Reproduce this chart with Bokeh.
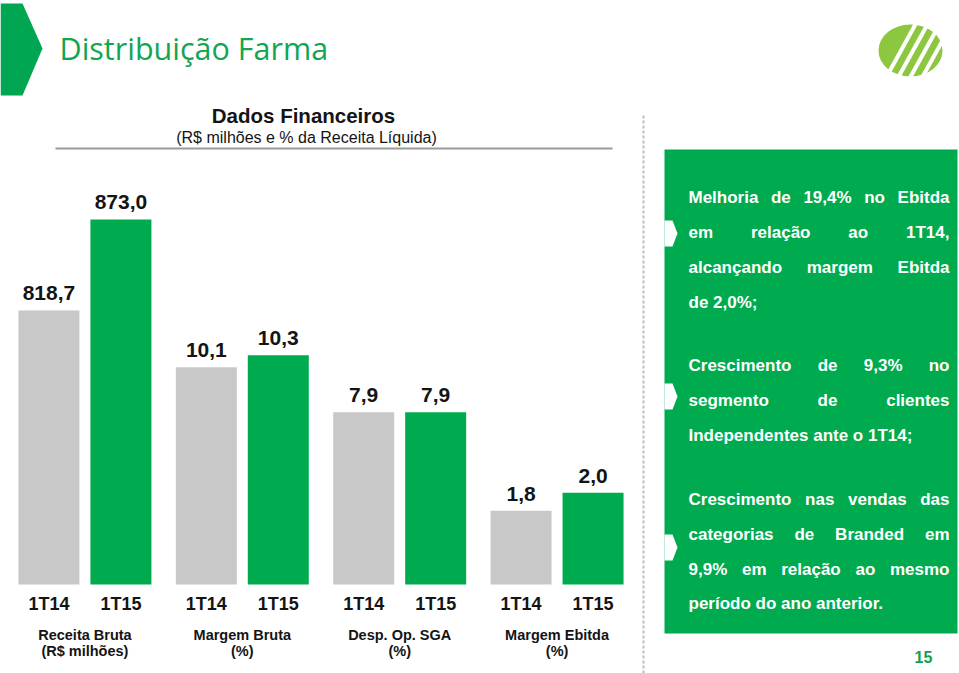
from bokeh.plotting import figure
from bokeh.models import Range1d, FactorRange, ColumnDataSource
from bokeh.layouts import column, row
from bokeh.embed import file_html
from bokeh.resources import INLINE
from bokeh.core.properties import value

# ---------------- data ----------------
groups = ["Receita Bruta", "Margem Bruta", "Desp. Op. SGA", "Margem Ebitda"]
group_units = ["(R$ milhões)", "(%)", "(%)", "(%)"]
periods = ["1T14", "1T15"]
values_1t14 = [818.7, 10.1, 7.9, 1.8]
values_1t15 = [873.0, 10.3, 7.9, 2.0]

# each group is drawn on its own (broken) scale, as in the original slide
axis_base = [655.2, 6.48, 5.03, 0.98]     # value sitting on the baseline
axis_px_per_unit = [1.676, 60.0, 60.0, 90.0]

page_title = "Distribuição Farma"
chart_title = "Dados Financeiros"
chart_subtitle = "(R$ milhões e % da Receita Líquida)"
page_number = "15"
paragraphs = [
    ["Melhoria de 19,4% no Ebitda", "em relação ao 1T14,", "alcançando margem Ebitda", "de 2,0%;"],
    ["Crescimento de 9,3% no", "segmento de clientes", "Independentes ante o 1T14;"],
    ["Crescimento nas vendas das", "categorias de Branded  em", "9,9% em relação ao mesmo", "período do ano anterior."],
]

GREEN = "#00AB4F"
GRAY = "#C8C8C8"
DARK = "#141414"
FONT = value("Liberation Sans")

W_TOTAL, H_TOTAL = 959, 673
HEADER_H = 100
SPLIT_X = 641
CHART_TOP = 155


def fmt(v):
    return f"{v:.1f}".replace(".", ",")


def clean(p):
    p.grid.visible = False
    p.outline_line_color = None
    p.background_fill_color = "white"
    p.border_fill_color = "white"
    return p


def mkfig(w, h, xr, yr):
    return clean(figure(width=w, height=h, x_range=xr, y_range=yr, output_backend="svg",
                        toolbar_location=None, min_border=0, x_axis_location=None,
                        y_axis_location=None))


# ---------------- header ----------------
header = mkfig(W_TOTAL, HEADER_H, Range1d(0, W_TOTAL), Range1d(HEADER_H, 0))
header.patch([0, 22, 42, 22, 0], [3, 3, 48, 95, 95], fill_color="#00A651", line_color=None)
header.text(x=[59], y=[47], text=[page_title], text_font=value("Open Sans"), text_font_size="30.5px",
            text_color="#13A552", text_baseline="alphabetic", text_align="left")
# logo
header.ellipse(x=[910], y=[50], width=64, height=52, fill_color="#8DC63F", line_color=None)
header.segment(x0=[884, 896, 908, 920], y0=[80, 80, 80, 80], x1=[916, 928, 940, 952], y1=[22, 22, 22, 22],
               line_color="white", line_width=4)

# ---------------- chart title strip ----------------
ctop = mkfig(SPLIT_X, CHART_TOP - HEADER_H, Range1d(0, SPLIT_X), Range1d(CHART_TOP, HEADER_H))
ctop.text(x=[303], y=[115], text=[chart_title], text_align="center",
          text_baseline="alphabetic", text_font=FONT, text_font_style="bold",
          text_font_size="20.5px", text_color=DARK)
ctop.text(x=[306], y=[137], text=[chart_subtitle], text_align="center",
          text_baseline="alphabetic", text_font=FONT, text_font_size="16px", text_color=DARK)
ctop.segment(x0=[55], y0=[148], x1=[612], y1=[148], line_color="#9A9A9A", line_width=2)

# ---------------- chart ----------------
factors = [(g, p) for g in groups for p in periods]
xr = FactorRange(*factors, factor_padding=0.18, group_padding=0.4,
                 range_padding=0.294, range_padding_units="absolute")
base_px = 584
chart = mkfig(SPLIT_X, H_TOTAL - CHART_TOP, xr, Range1d(H_TOTAL, CHART_TOP))
chart.extra_y_ranges = {
    f"g{i}": Range1d(axis_base[i] - (H_TOTAL - base_px) / axis_px_per_unit[i],
                     axis_base[i] + (base_px - CHART_TOP) / axis_px_per_unit[i])
    for i in range(len(groups))
}

for i, g in enumerate(groups):
    vals = [values_1t14[i], values_1t15[i]]
    src = ColumnDataSource(dict(x=[(g, p) for p in periods], top=vals,
                                color=[GRAY, GREEN], label=[fmt(v) for v in vals]))
    chart.vbar(x="x", top="top", bottom=axis_base[i], width=1.0, fill_color="color",
               line_color=None, y_range_name=f"g{i}", source=src)
    chart.text(x="x", y="top", text="label", y_range_name=f"g{i}", source=src,
               text_align="center", text_baseline="alphabetic", y_offset=-17,
               text_font=FONT, text_font_style="bold", text_font_size="21px", text_color=DARK)

chart.text(x=factors, y=[603] * len(factors), text=[f[1] for f in factors], text_align="center",
           text_baseline="alphabetic", text_font=FONT, text_font_style="bold",
           text_font_size="18px", text_color=DARK)
chart.text(x=groups, y=[634] * 4, text=groups, text_align="center", text_baseline="alphabetic",
           text_font=FONT, text_font_style="bold", text_font_size="14.5px", text_color=DARK)
chart.text(x=groups, y=[650] * 4, text=group_units, text_align="center", text_baseline="alphabetic",
           text_font=FONT, text_font_style="bold", text_font_size="14.5px", text_color=DARK)

# ---------------- side box ----------------
side = mkfig(W_TOTAL - SPLIT_X, H_TOTAL - HEADER_H, Range1d(SPLIT_X, W_TOTAL), Range1d(H_TOTAL, HEADER_H))
side.segment(x0=[643], y0=[115], x1=[643], y1=[673], line_color="#BDBDBD", line_width=2,
             line_dash="3 2")
side.quad(left=[664], right=[957], top=[149], bottom=[633], fill_color=GREEN, line_color=None)
for c in [233, 396, 547]:
    side.patch([664, 672, 677, 672, 664], [c - 13, c - 13, c, c + 13, c + 13],
               fill_color="white", line_color=None)

CW = {' ': 278, ',': 278, '.': 278, ';': 333, '%': 889, '(': 333, ')': 333}
for ch in "0123456789":
    CW[ch] = 556
CW.update(dict(A=722, B=722, C=722, D=722, E=667, F=611, G=778, H=722, I=278, M=833, T=611))
CW.update(dict(a=556, b=611, c=556, d=611, e=556, f=333, g=611, h=611, i=278, j=278, k=556,
               l=278, m=889, n=611, o=611, p=611, q=611, r=389, s=556, t=333, u=611, v=556,
               w=778, x=556, y=556, z=500))
CW.update({'ç': 556, 'ã': 556, 'í': 278, 'õ': 611, 'é': 556})
FS = 17


def tw(s):
    return sum(CW.get(ch, 556) for ch in s) / 1000 * FS


left_x, right_x = 688, 949
line_centers = [[197, 232, 267, 302], [365, 400, 435], [499, 534, 569, 603]]
wx, wy, wt = [], [], []
for para, ys in zip(paragraphs, line_centers):
    for k, (line, yb) in enumerate(zip(para, ys)):
        words = line.split()
        widths = [tw(w) for w in words]
        justify = k < len(para) - 1 and len(words) > 1
        gap = (right_x - left_x - sum(widths)) / (len(words) - 1) if justify else tw(" ")
        x = left_x
        for w, wd in zip(words, widths):
            wx.append(x)
            wy.append(yb)
            wt.append(w)
            x += wd + gap
side.text(x=wx, y=wy, text=wt, text_align="left", text_baseline="alphabetic", text_font=FONT,
          text_font_style="bold", text_font_size=f"{FS}px", text_color="white")
side.text(x=[923], y=[656], text=[page_number], text_align="center", text_baseline="alphabetic",
          text_font=FONT, text_font_style="bold", text_font_size="16px", text_color="#12A04E")

layout = column(header, row(column(ctop, chart), side))
open("out.html", "w").write(file_html(layout, INLINE))
